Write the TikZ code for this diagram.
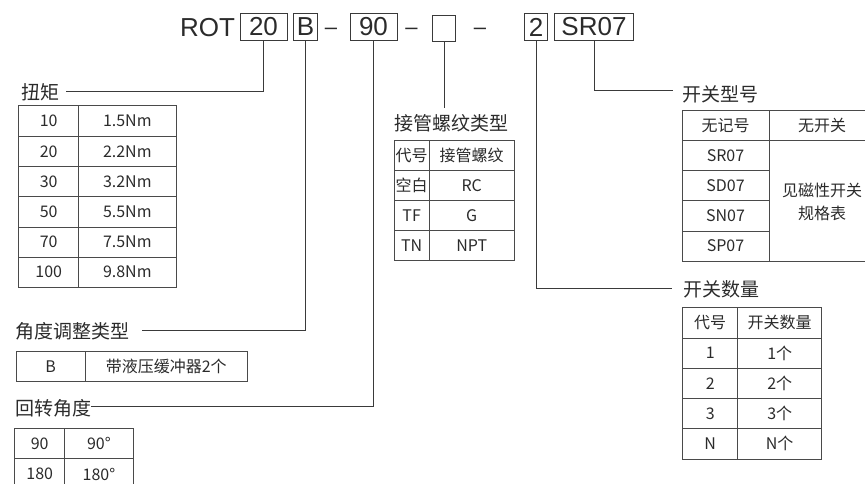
\documentclass[tikz,border=0pt]{standalone}
\usepackage{fontspec}
\newfontfamily\cjk{Noto Sans CJK SC}
\newfontfamily\titlef{Liberation Sans}
\definecolor{txt}{HTML}{2B2B2B}
\definecolor{ln}{HTML}{3A3A3A}
\definecolor{tl}{HTML}{4A4A4A}
\tikzset{
  lbl/.style={font=\cjk\fontsize{19}{22}\selectfont, text=txt, inner sep=0pt, anchor=west},
  cell/.style={font=\cjk\fontsize{16}{19}\selectfont, text=txt, inner sep=0pt},
  tbox/.style={draw=ln, line width=1pt, inner sep=0pt, text=txt, font=\titlef\fontsize{26}{30}\selectfont},
  ttext/.style={inner sep=0pt, text=txt, font=\titlef\fontsize{26}{30}\selectfont},
  dtext/.style={inner sep=0pt, text=txt, font=\titlef\fontsize{22}{26}\selectfont},
  conn/.style={draw=ln, line width=0.9pt},
  tb/.style={draw=tl, line width=1pt}
}
\begin{document}
\begin{tikzpicture}[x=1pt,y=-1pt]
\useasboundingbox (0,0) rectangle (865,484);
\clip (0,0) rectangle (865,484);
% ---------- title ----------
\node[ttext, anchor=base west] (rot) at (180,37) {ROT};
\node[tbox, minimum width=47pt, minimum height=27pt] (b20) at (263.5,27) {20};
\node[tbox, minimum width=24pt, minimum height=27pt] (bB) at (305.5,27) {B};
\node[dtext, anchor=base] (d1) at (331,35) {–};
\node[tbox, minimum width=47pt, minimum height=27pt] (b90) at (373.5,27) {90};
\node[dtext, anchor=base] (d2) at (411.5,35) {–};
\node[tbox, minimum width=23pt, minimum height=26pt] (bx) at (444,28.5) {};
\node[dtext, anchor=base] (d3) at (480,35) {–};
\node[tbox, minimum width=23pt, minimum height=27pt] (b2) at (536,27) {2};
\node[tbox, minimum width=79pt, minimum height=27pt] (bsr) at (594,27) {SR07};
% ---------- labels ----------
\node[lbl] (ltq) at (21,92) {扭矩};
\node[lbl] (lang) at (15,331) {角度调整类型};
\node[lbl] (lrot) at (15,408) {回转角度};
\node[lbl] (lpipe) at (394,123) {接管螺纹类型};
\node[lbl] (lsw) at (682,94) {开关型号};
\node[lbl] (lcnt) at (683,289) {开关数量};
% ---------- connectors ----------
\coordinate (e1) at (66,91.7);
\coordinate (e2) at (142,330.7);
\coordinate (e3) at (91,406);
\coordinate (e4) at (444,108);
\coordinate (e5) at (673,90);
\coordinate (e6) at (672,288);
\draw[conn] (b20.south) |- (e1);
\draw[conn] (bB.south) |- (e2);
\draw[conn] (b90.south) |- (e3);
\draw[conn] (bx.south) -- (e4);
\draw[conn] (bsr.south) |- (e5);
\draw[conn] (b2.south) |- (e6);
% ---------- torque table ----------
\draw[tb] (18.7,106) rectangle (176,287.3);
\draw[tb] (78.7,106) -- (78.7,287.3);
\foreach \y in {136.7,166.7,196.7,227,257.3} \draw[tb] (18.7,\y) -- (176,\y);
\foreach \a/\b [count=\i] in {10/1.5Nm,20/2.2Nm,30/3.2Nm,50/5.5Nm,70/7.5Nm,100/9.8Nm}{
  \node[cell] (tqa\i) at (48.7,{106+30.22*(\i-0.5)}) {\a};
  \node[cell] (tqb\i) at (127.3,{106+30.22*(\i-0.5)}) {\b};
}
% ---------- angle adjust table ----------
\draw[tb] (16,351.7) rectangle (247,381.7);
\draw[tb] (85.3,351.7) -- (85.3,381.7);
\node[cell] (anga) at (50.7,366.7) {B};
\node[cell] (angb) at (166.2,366.7) {带液压缓冲器2个};
% ---------- rotation table ----------
\draw[tb] (14.7,428.3) rectangle (133,489.3);
\draw[tb] (64.7,428.3) -- (64.7,489.3);
\draw[tb] (14.7,458.7) -- (133,458.7);
\node[cell] (ra1) at (39.7,443.5) {90};
\node[cell] (rb1) at (98.9,443.5) {90°};
\node[cell] (ra2) at (39.7,474) {180};
\node[cell] (rb2) at (98.9,474) {180°};
% ---------- pipe thread table ----------
\draw[tb] (394,140.7) rectangle (514,260.7);
\draw[tb] (429.3,140.7) -- (429.3,260.7);
\foreach \y in {170.4,200.4,230.6} \draw[tb] (394,\y) -- (514,\y);
\foreach \a/\b [count=\i] in {代号/接管螺纹,空白/RC,TF/G,TN/NPT}{
  \node[cell] (pa\i) at (411.7,{140.7+30*(\i-0.5)}) {\a};
  \node[cell] (pb\i) at (471.7,{140.7+30*(\i-0.5)}) {\b};
}
% ---------- switch model table ----------
\draw[tb] (682,110.7) rectangle (876,261);
\draw[tb] (769,110.7) -- (769,261);
\draw[tb] (682,140.7) -- (876,140.7);
\foreach \y in {170.7,200.7,231} \draw[tb] (682,\y) -- (769,\y);
\foreach \a [count=\i] in {无记号,SR07,SD07,SN07,SP07}{
  \node[cell] (sa\i) at (725.5,{110.7+30.06*(\i-0.5)}) {\a};
}
\node[cell] (sb1) at (822,125.7) {无开关};
\node[cell, align=center, font=\cjk\fontsize{16}{23}\selectfont] (sb2) at (822,201.5) {见磁性开关\\规格表};
% ---------- switch count table ----------
\draw[tb] (682.7,307.7) rectangle (821.7,459);
\draw[tb] (737.7,307.7) -- (737.7,459);
\foreach \y in {338.3,368.3,398.7,428.7} \draw[tb] (682.7,\y) -- (821.7,\y);
\foreach \a/\b [count=\i] in {代号/开关数量,1/1个,2/2个,3/3个,N/N个}{
  \node[cell] (ca\i) at (710.2,{307.7+30.26*(\i-0.5)}) {\a};
  \node[cell] (cb\i) at (779.7,{307.7+30.26*(\i-0.5)}) {\b};
}
\end{tikzpicture}
\end{document}
